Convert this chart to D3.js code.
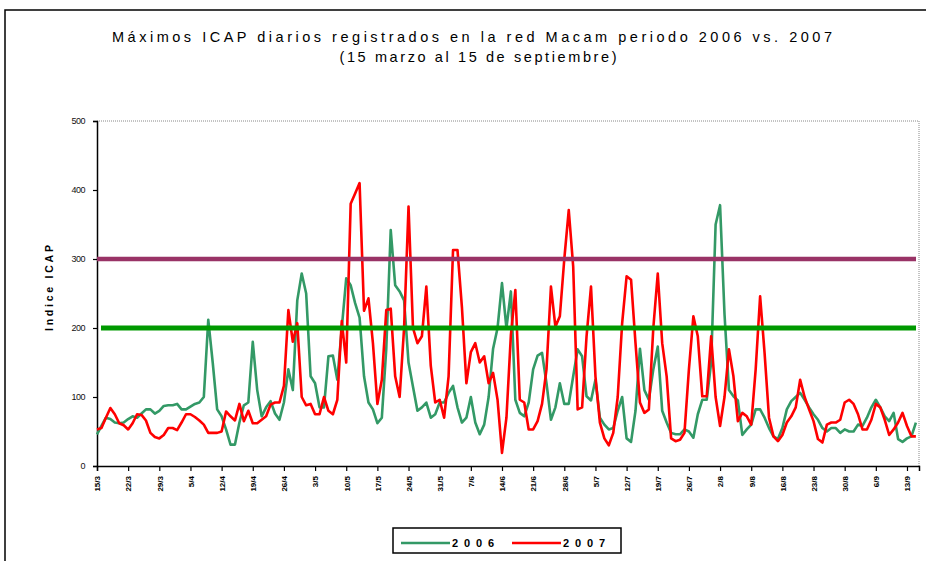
<!DOCTYPE html>
<html><head><meta charset="utf-8">
<script src="https://cdn.jsdelivr.net/npm/d3@7"></script>
<style>body{margin:0;background:#fff}svg{display:block}</style>
</head><body><svg id="c" width="926" height="561"></svg>
<script>
const titleLines = ["Máximos ICAP diarios registrados en la red Macam periodo 2006 vs. 2007", "(15 marzo al 15 de septiembre)"];
const yTitle = "Indice ICAP";
const tickLabels = ["15/3","22/3","29/3","5/4","12/4","19/4","26/4","3/5","10/5","17/5","24/5","31/5","7/6","14/6","21/6","28/6","5/7","12/7","19/7","26/7","2/8","9/8","16/8","23/8","30/8","6/9","13/9"];
const yTicks = [0,100,200,300,400,500];
const seriesNames = ["2006","2007"];
const values2006 = [46,58,70,68,63,62,63,68,72,70,76,82,82,76,80,87,88,88,90,82,
82,86,90,92,100,212,150,82,72,53,31,31,63,88,92,180,110,72,85,94,
76,67,92,140,110,240,279,250,130,120,85,85,159,160,125,200,272,262,236,215,
130,92,82,62,70,170,342,262,253,240,150,115,80,85,92,70,75,92,92,106,
116,85,63,70,100,63,46,60,100,170,200,265,200,253,96,77,72,92,140,160,
164,120,67,85,120,90,90,130,169,159,101,95,125,70,60,53,55,80,100,40,
35,80,170,110,96,140,173,80,63,48,46,46,53,50,41,75,96,96,150,350,
378,220,110,101,95,45,53,60,82,82,70,55,43,39,55,82,94,100,106,96,
85,75,67,55,50,55,55,48,53,50,50,60,58,70,85,96,85,72,65,77,
39,35,40,43,63];
const values2007 = [53,55,70,84,75,62,59,53,62,75,74,66,48,42,40,45,55,55,52,63,
75,75,71,66,60,48,48,48,50,79,72,66,90,65,80,62,62,67,72,89,
92,92,116,226,180,207,100,88,90,75,75,100,80,75,96,210,150,380,395,410,
225,243,178,90,125,226,228,130,100,200,376,200,178,188,260,145,92,96,70,130,
313,313,230,120,165,178,150,159,120,135,96,19,70,190,255,96,92,53,53,65,
90,140,260,202,217,300,371,289,82,85,188,260,130,63,40,30,48,100,207,275,
270,178,92,77,82,200,279,178,130,40,36,38,48,140,217,188,101,101,188,100,
58,100,169,130,65,77,72,60,140,246,164,70,43,36,45,63,72,85,125,100,
82,65,39,34,60,63,63,67,92,96,90,75,53,53,67,90,85,67,45,53,
63,77,58,43,43];
const refValues = [300, 200];

(function(){
const svg = d3.select("#c");
const font = "'Liberation Sans', Arial, sans-serif";

svg.append("rect").attr("x",5).attr("y",10).attr("width",940).attr("height",570)
  .attr("fill","none").attr("stroke","#000").attr("stroke-width",1.5);

svg.append("text").attr("x",472).attr("y",42).attr("text-anchor","middle")
  .attr("font-family",font).attr("font-size",14.5)
  .attr("textLength",720).attr("lengthAdjust","spacing").text(titleLines[0]);
svg.append("text").attr("x",478).attr("y",62).attr("text-anchor","middle")
  .attr("font-family",font).attr("font-size",14.5)
  .attr("textLength",277).attr("lengthAdjust","spacing").text(titleLines[1]);

const pl=97, pr=919, pt=121, pb=466;
const x = d3.scaleLinear().domain([0,184.7]).range([pl,pr]);
const y = d3.scaleLinear().domain([0,500]).range([pb,pt]);

svg.append("path").attr("d",`M${pl},${pt}H${pr}V${pb}`)
  .attr("fill","none").attr("stroke","#888").attr("stroke-width",1).attr("stroke-dasharray","1,1");

const ya = svg.append("g").attr("transform",`translate(${pl},0)`)
  .call(d3.axisLeft(y).tickValues(yTicks).tickSize(4).tickPadding(8).tickFormat(d3.format("d")));
ya.select(".domain").attr("stroke","#000").attr("stroke-width",1.5);
ya.selectAll(".tick line").attr("stroke","#000").attr("stroke-width",1.2);
ya.selectAll("text").attr("font-family",font).attr("font-size",9).attr("fill","#111")
  .attr("letter-spacing","-0.5px");

const xa = svg.append("g").attr("transform",`translate(0,${pb})`)
  .call(d3.axisBottom(x).tickValues(tickLabels.map((_,i)=>i*7)).tickSize(5).tickFormat((d,i)=>tickLabels[i]));
xa.select(".domain").attr("stroke","#000").attr("stroke-width",1.5);
xa.selectAll(".tick line").attr("stroke","#000").attr("stroke-width",1.2);
xa.selectAll("text").attr("font-family",font).attr("font-size",8).attr("font-weight","bold")
  .attr("text-anchor","end").attr("dy","0.35em")
  .attr("transform","rotate(-90) translate(-10,0)").attr("y",0).attr("x",0);

svg.append("text").attr("transform","translate(53,288) rotate(-90)")
  .attr("text-anchor","middle").attr("font-family",font).attr("font-size",10.5).attr("font-weight","bold")
  .attr("textLength",86).attr("lengthAdjust","spacing").text(yTitle);

const line = d3.line().x((d,i)=>x(i)).y(d=>y(d));
svg.append("path").datum(values2006).attr("d",line).attr("fill","none")
  .attr("stroke","#339966").attr("stroke-width",2.6).attr("stroke-linejoin","round");
svg.append("path").datum(values2007).attr("d",line).attr("fill","none")
  .attr("stroke","#ff0000").attr("stroke-width",2.6).attr("stroke-linejoin","round");

svg.append("line").attr("x1",97).attr("x2",916).attr("y1",y(refValues[0])).attr("y2",y(refValues[0]))
  .attr("stroke","#993366").attr("stroke-width",4.5);
svg.append("line").attr("x1",101).attr("x2",916).attr("y1",y(refValues[1])).attr("y2",y(refValues[1]))
  .attr("stroke","#009900").attr("stroke-width",5);

const lg = svg.append("g");
lg.append("rect").attr("x",393).attr("y",528).attr("width",228).attr("height",25)
  .attr("fill","#fff").attr("stroke","#000").attr("stroke-width",1.5);
const lgColors = ["#339966","#ff0000"];
const lgX = [401, 512];
seriesNames.forEach((n,i)=>{
  lg.append("line").attr("x1",lgX[i]).attr("x2",lgX[i]+49).attr("y1",543).attr("y2",543)
    .attr("stroke",lgColors[i]).attr("stroke-width",2.6);
  lg.append("text").attr("x",lgX[i]+51).attr("y",547).attr("font-family",font).attr("font-size",11)
    .attr("font-weight","bold").attr("textLength",42).attr("lengthAdjust","spacing").text(n);
});
})();
</script></body></html>
